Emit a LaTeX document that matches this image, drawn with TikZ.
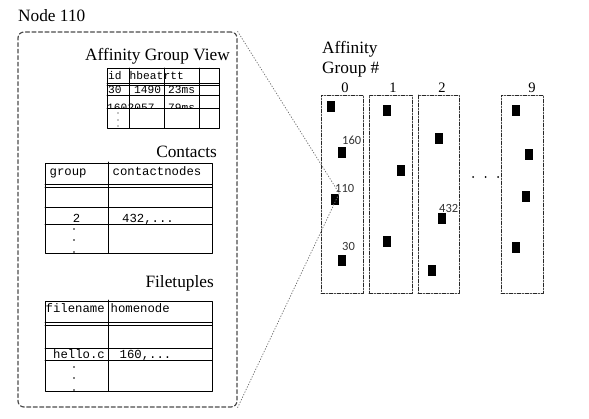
\documentclass[tikz,border=0pt]{standalone}
\usepackage{fontspec}
\setmainfont{Liberation Serif}
\setmonofont{Liberation Mono}
\newfontfamily\labfont{Carlito}
\usetikzlibrary{arrows}

\begin{document}
\begin{tikzpicture}[line cap=round,line join=round,x=1pt,y=-1pt,
  heading/.style={font=\fontsize{17.3}{19}\selectfont,inner sep=0pt},
  cell/.style={font=\ttfamily\fontsize{12.3}{14}\selectfont,inner sep=0pt,anchor=base west},
  smallcell/.style={inner sep=0pt,anchor=base west,font=\ttfamily\fontsize{11.2}{13}\selectfont},
  viewbox/.style={draw=black!70,dashed,dash pattern=on 4pt off 2.5pt,line width=1.2pt,rounded corners=6pt,inner sep=0pt},
  grpbox/.style={draw=black!85,dash pattern=on 4pt off 1.5pt on 1pt off 1.5pt,line width=0.9pt,inner sep=0pt,minimum height=198pt},
  blk/.style={fill=black,inner sep=0pt,minimum width=8pt,minimum height=11pt},
  numlab/.style={font=\labfont\fontsize{12.5}{14}\selectfont,text=black!80,inner sep=0pt,anchor=base west},
  grplab/.style={font=\fontsize{14.5}{16}\selectfont,inner sep=0pt,anchor=base}]
\useasboundingbox (0,0) rectangle (589,418);
% node 110 and its tables
\node[heading,anchor=base west] (nodettl) at (18,21) {Node 110};
\node[viewbox,minimum width=219pt,minimum height=375pt] (view) at (127.5,219.5) {};
\node[heading,anchor=base east] (agvttl) at (230,60) {Affinity Group View};
\draw[line width=0.8pt] (107,68) rectangle (219,128);
\draw[line width=0.8pt] (107,83) -- (219,83);
\draw[line width=0.8pt] (107,85.5) -- (219,85.5);
\draw[line width=0.8pt] (107,95) -- (219,95);
\draw[line width=0.8pt] (107,108) -- (219,108);
\draw[line width=0.8pt] (129,68) -- (129,128);
\draw[line width=0.8pt] (164,68) -- (164,128);
\draw[line width=0.8pt] (199,68) -- (199,128);
\node[smallcell] (agvid) at (108,79) {id};
\node[smallcell] (agvhb) at (129.5,79) {hbeat};
\node[smallcell] (agvrtt) at (163.5,79) {rtt};
\node[smallcell] (agva) at (108,93.5) {30};
\node[smallcell] (agvb) at (134,93.5) {1490};
\node[smallcell] (agvc) at (168,93.5) {23ms};
\begin{scope}
\clip (107,95) rectangle (219,108);
\node[smallcell] (agvd) at (107,111) {160};
\node[smallcell] (agve) at (127.5,111) {2057};
\node[smallcell] (agvf) at (168,111) {79ms};
\end{scope}
\fill (118,113) circle (0.7);
\fill (118,120) circle (0.7);
\fill (118,126) circle (0.7);
\node[heading,anchor=base east] (conttl) at (217,157) {Contacts};
\draw[line width=0.8pt] (45,163) rectangle (212,253);
\draw[line width=0.8pt] (45,184) -- (212,184);
\draw[line width=0.8pt] (45,187) -- (212,187);
\draw[line width=0.8pt] (45,207) -- (212,207);
\draw[line width=0.8pt] (45,224) -- (212,224);
\draw[line width=0.8pt] (108,162) -- (108,253);
\node[cell] (congrp) at (49.5,175) {group};
\node[cell] (connodes) at (112.5,175) {contactnodes};
\node[cell,anchor=base] (cona) at (76.5,222) {2};
\node[cell] (conb) at (122,222) {432,...};
\fill (74,229) circle (0.9);
\fill (74,240) circle (0.9);
\fill (74,252) circle (0.9);
\node[heading,anchor=base east] (filttl) at (214,287) {Filetuples};
\draw[line width=0.8pt] (45,301) rectangle (212,391);
\draw[line width=0.8pt] (45,322) -- (212,322);
\draw[line width=0.8pt] (45,325) -- (212,325);
\draw[line width=0.8pt] (45,348) -- (212,348);
\draw[line width=0.8pt] (45,360) -- (212,360);
\draw[line width=0.8pt] (108,300) -- (108,391);
\node[cell] (filname) at (45.5,312) {filename};
\node[cell] (filhome) at (110.5,312) {homenode};
\node[cell] (fila) at (53,358) {hello.c};
\node[cell] (filb) at (119.5,358) {160,...};
\fill (74,367) circle (0.9);
\fill (74,378) circle (0.9);
\fill (74,390) circle (0.9);
% affinity groups
\node[heading,anchor=base west] (grpttl) at (322,53) {Affinity};
\node[heading,anchor=base west] (grpttlb) at (322,73) {Group \#};
\node[grplab] (lab0) at (345,92) {0};
\node[grplab] (lab1) at (393,92) {1};
\node[grplab] (lab2) at (442,92) {2};
\node[grplab] (lab9) at (532,92) {9};
\node[grpbox,minimum width=42pt] (grp0) at (342,194) {};
\node[grpbox,minimum width=43pt] (grp1) at (390.5,194) {};
\node[grpbox,minimum width=41pt] (grp2) at (438.5,194) {};
\node[grpbox,minimum width=42pt] (grp9) at (522,194) {};
\node[blk] (g0a) at (331,106) {};
\node[blk] (g0b) at (342,152) {};
\node[blk] (g0c) at (335,199) {};
\node[blk] (g0d) at (342,260) {};
\node[blk] (g1a) at (387,110) {};
\node[blk] (g1b) at (401,170) {};
\node[blk] (g1c) at (387,241) {};
\node[blk] (g2a) at (439,138) {};
\node[blk] (g2b) at (442,218) {};
\node[blk] (g2c) at (432,270) {};
\node[blk] (g9a) at (516,110) {};
\node[blk] (g9b) at (529,154) {};
\node[blk] (g9c) at (526,196) {};
\node[blk] (g9d) at (516,247) {};
\node[numlab] (l160) at (342,144) {160};
\node[numlab] (l110) at (335,192) {110};
\node[numlab] (l30) at (342,250) {30};
\node[numlab] (l432) at (439,212) {432};
\fill (473,177) circle (1);
\fill (485.5,177) circle (1);
\fill (498,177) circle (1);
\draw[black!55,dotted,line width=0.8pt] (view.north east) -- (g0c.north east);
\draw[black!55,dotted,line width=0.8pt] (view.south east) -- (g0c.north east);
\end{tikzpicture}
\end{document}
